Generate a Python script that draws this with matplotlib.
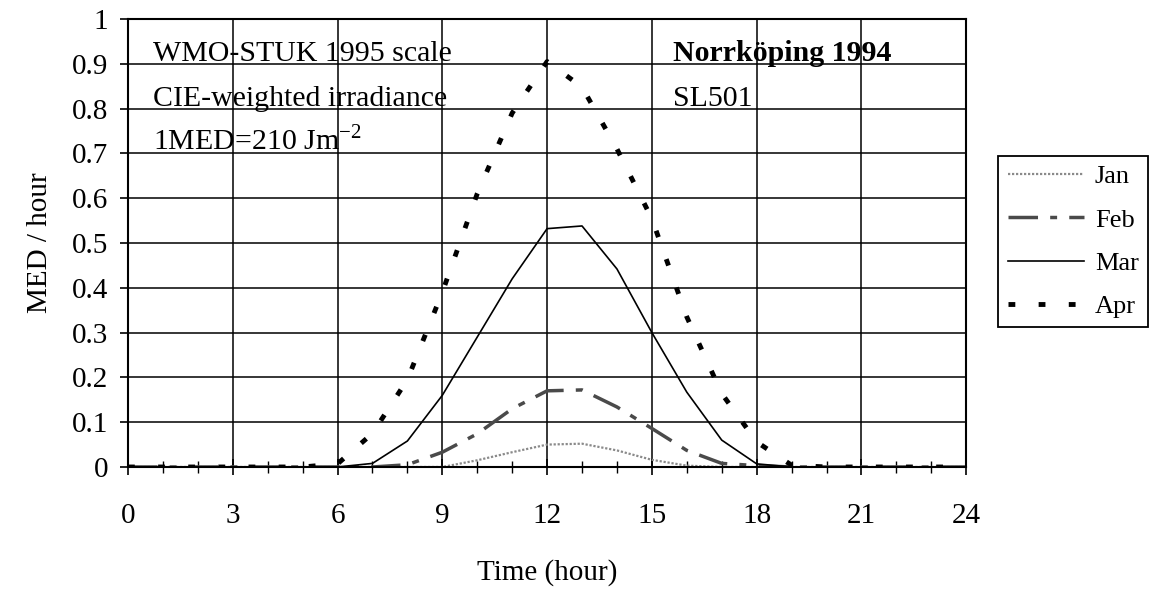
import numpy as np
import matplotlib
matplotlib.use("Agg")
import matplotlib.pyplot as plt
from matplotlib.ticker import MultipleLocator

plt.rcParams['font.family'] = ['Liberation Serif', 'DejaVu Serif']

# hourly CIE-weighted UV dose rate, MED / hour
hours = list(range(25))
jan = [0, 0, 0, 0, 0, 0, 0, 0, 0, 0.0, 0.015, 0.033, 0.050, 0.052, 0.037, 0.016, 0.003,
       0, 0, 0, 0, 0, 0, 0, 0]
feb = [0, 0, 0, 0, 0, 0, 0, 0, 0.005, 0.033, 0.074, 0.130, 0.170, 0.172, 0.134, 0.086, 0.037,
       0.008, 0.003, 0, 0, 0, 0, 0, 0]
mar = [0, 0, 0, 0, 0, 0, 0, 0.008, 0.058, 0.160, 0.290, 0.420, 0.532, 0.538, 0.442, 0.300, 0.167,
       0.060, 0.007, 0, 0, 0, 0, 0, 0]
apr = [0, 0, 0, 0, 0, 0, 0.007, 0.075, 0.195, 0.390, 0.610, 0.790, 0.905, 0.848, 0.710, 0.554, 0.335,
       0.164, 0.056, 0.004, 0, 0, 0, 0, 0]
ytick_labels = ['0', '0.1', '0.2', '0.3', '0.4', '0.5', '0.6', '0.7', '0.8', '0.9', '1']

fig = plt.figure(figsize=(11.53, 5.93), dpi=100)
ax = fig.add_axes([0.111, 0.2125, 0.727, 0.7555])

# grid first so the curves sit on top
ax.set_axisbelow(True)
ax.grid(True, color='black', linewidth=1.1)

ax.plot(hours, jan, color='#8a8a8a', linewidth=1.6, dashes=(1, 0.8), label='Jan')
ax.plot(hours, feb, color='#4a4a4a', linewidth=2.5, dashes=(8.5, 3.5, 2, 3.5), label='Feb')
ax.plot(hours, mar, color='black', linewidth=1.2, label='Mar')
ax.plot(hours, apr, color='black', linewidth=3.5, dashes=(1.4, 4.8), label='Apr')

ax.set_xlim(0, 24)
ax.set_ylim(0, 1)
ax.xaxis.set_major_locator(MultipleLocator(3))
ax.xaxis.set_minor_locator(MultipleLocator(1))
ax.set_yticks(np.arange(0, 1.01, 0.1))
ax.set_yticklabels(ytick_labels)

ax.tick_params(axis='x', which='major', direction='inout', length=12, width=1.2,
               labelsize=21, pad=20)
ax.tick_params(axis='x', which='minor', direction='inout', length=8, width=1.0)
ax.tick_params(axis='y', which='major', direction='out', length=6, width=1.2,
               labelsize=21, pad=8)
for s in ax.spines.values():
    s.set_linewidth(1.5)

ax.set_xlabel('Time (hour)', fontsize=21)
ax.xaxis.set_label_coords(0.5, -0.205)
ax.set_ylabel('MED / hour', fontsize=21)
ax.yaxis.set_label_coords(-0.09, 0.5)

# annotations inside the plot
ax.text(0.72, 0.906, 'WMO-STUK 1995 scale', fontsize=21.5, va='baseline')
ax.text(0.72, 0.806, 'CIE-weighted irradiance', fontsize=21.5, va='baseline')
ax.text(0.72, 0.706, r'1MED=210 Jm$^{\mathregular{-2}}$', fontsize=21.5, va='baseline')
ax.text(15.6, 0.906, 'Norrköping 1994', fontsize=21.5, fontweight='bold', va='baseline')
ax.text(15.6, 0.806, 'SL501', fontsize=21.5, va='baseline')

leg = fig.legend(loc='lower left', bbox_to_anchor=(0.866, 0.448), fontsize=19,
                 handlelength=2.9, handletextpad=0.4, labelspacing=0.75,
                 borderpad=0.35, borderaxespad=0, fancybox=False, framealpha=1)
leg.get_frame().set_edgecolor('black')
leg.get_frame().set_linewidth(1.3)

fig.savefig('out.png', dpi=100)
